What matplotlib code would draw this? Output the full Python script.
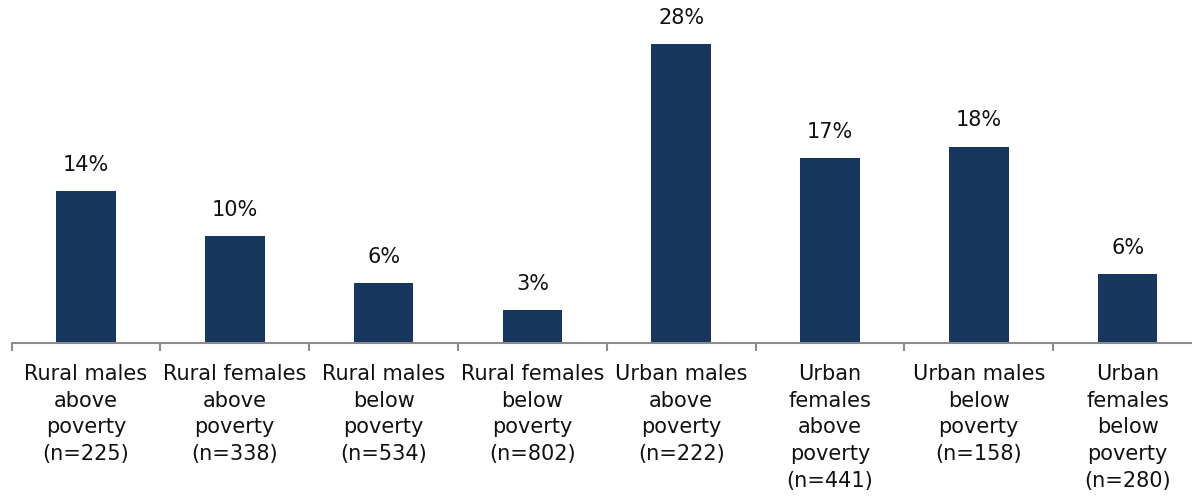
import matplotlib.pyplot as plt
import numpy as np

# categories and values
groups = [
    "Rural males\nabove\npoverty\n(n=225)",
    "Rural females\nabove\npoverty\n(n=338)",
    "Rural males\nbelow\npoverty\n(n=534)",
    "Rural females\nbelow\npoverty\n(n=802)",
    "Urban males\nabove\npoverty\n(n=222)",
    "Urban\nfemales\nabove\npoverty\n(n=441)",
    "Urban males\nbelow\npoverty\n(n=158)",
    "Urban\nfemales\nbelow\npoverty\n(n=280)",
]
values = [14.2, 10.0, 5.6, 3.1, 28.0, 17.3, 18.4, 6.5]
labels = ["14%", "10%", "6%", "3%", "28%", "17%", "18%", "6%"]

plt.rcParams["font.family"] = ["DejaVu Sans"]

fig = plt.figure(figsize=(11.92, 4.99), dpi=100)
# axes run a bit past the right edge, like the original
ax = fig.add_axes([11.6 / 1192, 1 - 343 / 499, (1202 - 11.6) / 1192, 0.642])

x = np.arange(len(groups))
bars = ax.bar(x, values, width=0.4, color="#17375E")

for b, lab in zip(bars, labels):
    ax.text(b.get_x() + b.get_width() / 2, b.get_height() + 1.5, lab,
            ha="center", va="bottom", fontsize=15, color="#111111")

ax.set_xlim(-0.5, len(groups) - 0.5)
ax.set_ylim(0, 30)
ax.set_yticks([])
for s in ["top", "right", "left"]:
    ax.spines[s].set_visible(False)
ax.spines["bottom"].set_color("#8c8c8c")
ax.spines["bottom"].set_linewidth(1.5)

ax.set_xticks(x)
ax.set_xticklabels(groups, fontsize=15, linespacing=1.42, color="#111111")
ax.tick_params(axis="x", which="major", length=0, pad=15)
ax.set_xticks(np.arange(len(groups) + 1) - 0.5, minor=True)
ax.tick_params(axis="x", which="minor", length=6, width=1.5, color="#8c8c8c")

fig.savefig("out.png", dpi=100)
